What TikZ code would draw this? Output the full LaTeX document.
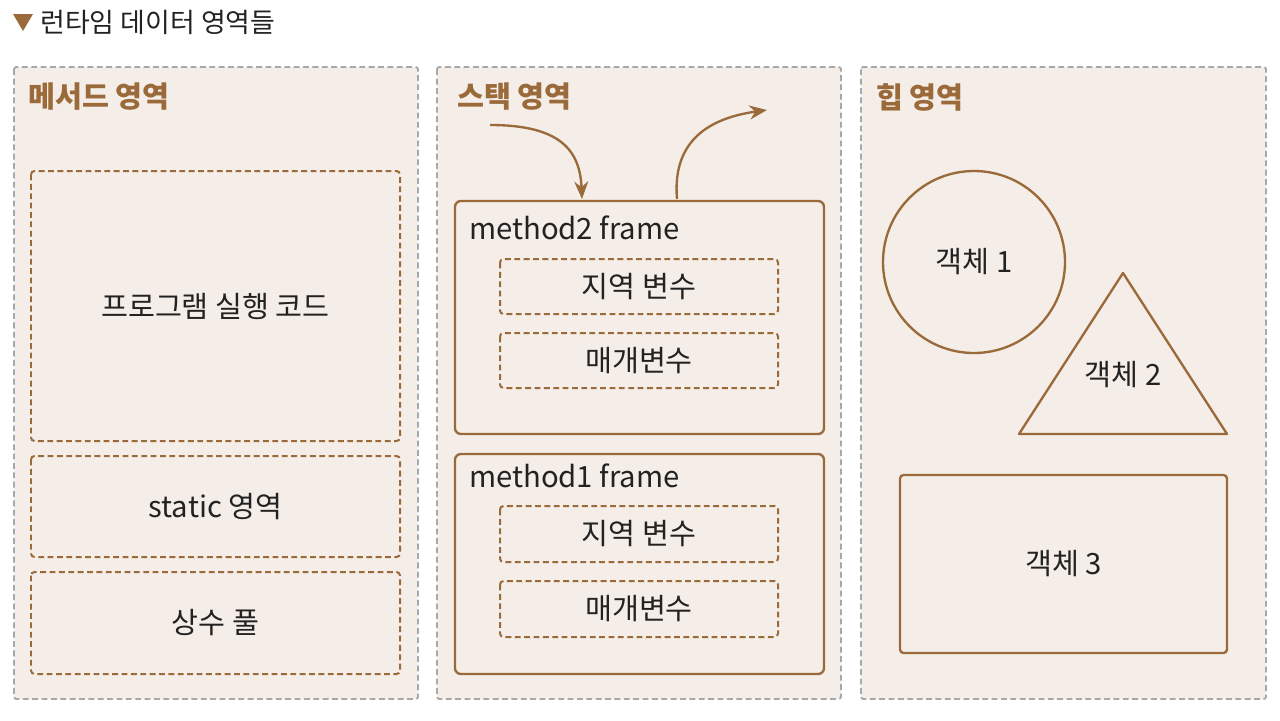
\documentclass[tikz,border=0pt]{standalone}
\usepackage{fontspec}
\setmainfont{Noto Sans CJK KR}
\usetikzlibrary{positioning,arrows.meta,shapes.geometric}
\definecolor{runbrown}{HTML}{9A6A3A}
\definecolor{runfill}{HTML}{F5EEE8}
\definecolor{rungray}{HTML}{A8A8A8}
\definecolor{runtext}{HTML}{222222}
\tikzset{
  area/.style={draw=rungray, fill=runfill, dash pattern=on 5pt off 3pt, line width=1.6pt, rounded corners=2pt},
  areatitle/.style={anchor=west, text=runbrown, font=\fontsize{25}{29}\selectfont\bfseries},
  dbox/.style={draw=runbrown, dash pattern=on 5pt off 3pt, line width=1.7pt, rounded corners=3pt},
  fbox/.style={draw=runbrown, line width=2pt, rounded corners=5pt},
  lbl/.style={text=runtext, font=\fontsize{25}{29}\selectfont},
  flow/.style={draw=runbrown, line width=2pt, -{Stealth[length=15pt,width=12pt]}}
}
\begin{document}
\begin{tikzpicture}[x=0.03cm,y=-0.03cm]
  \useasboundingbox (0,0) rectangle (1280,720);
  % title
  \node[anchor=west, inner sep=0pt, text=runtext, font=\fontsize{23}{27}\selectfont] (title) at (40,22) {런타임 데이터 영역들};
  \fill[runbrown] (13,14) -- (33,14) -- (23,31) -- cycle;

  % areas
  \draw[area] (14,67) rectangle (418,699);
  \draw[area] (437,67) rectangle (841,699);
  \draw[area] (861,67) rectangle (1266,699);
  \node[areatitle] (mtitle) at (24,97) {메서드 영역};
  \node[areatitle] (stitle) at (453,97) {스택 영역};
  \node[areatitle] (htitle) at (872,97) {힙 영역};

  % method area
  \draw[dbox] (31,171) rectangle (400,441) node[midway, lbl] (code) {프로그램 실행 코드};
  \draw[dbox] (31,456) rectangle (400,557) node[midway, lbl] (static) {static 영역};
  \draw[dbox] (31,572) rectangle (400,674) node[midway, lbl] (pool) {상수 풀};

  % stack area
  \draw[fbox] (455,201) rectangle (824,434);
  \node[lbl, anchor=west] (m2) at (465,228) {method2 frame};
  \draw[dbox] (500,259) rectangle (778,314) node[midway, lbl] (m2local) {지역 변수};
  \draw[dbox] (500,333) rectangle (778,388) node[midway, lbl] (m2param) {매개변수};
  \draw[fbox] (455,454) rectangle (824,674);
  \node[lbl, anchor=west] (m1) at (465,476) {method1 frame};
  \draw[dbox] (500,506) rectangle (778,562) node[midway, lbl] (m1local) {지역 변수};
  \draw[dbox] (500,581) rectangle (778,637) node[midway, lbl] (m1param) {매개변수};

  \coordinate (pushstart) at (490,125);
  \coordinate (pushend) at (582,199);
  \coordinate (popstart) at (677,199);
  \coordinate (popend) at (767,110);
  \draw[flow] (pushstart) .. controls (560,125) and (580,150) .. (pushend);
  \draw[flow] (popstart) .. controls (672,140) and (710,118) .. (popend);

  % heap area
  \draw[runbrown, line width=2pt] (974,262) circle[radius=91];
  \node[lbl] (obj1) at (974,262) {객체 1};
  \draw[runbrown, line width=2pt, line join=round] (1019,434) -- (1227,434) -- (1123,273) -- cycle;
  \node[lbl] (obj2) at (1123,375) {객체 2};
  \draw[fbox, rounded corners=3pt] (900,475) rectangle (1227,653) node[midway, lbl] (obj3) {객체 3};
\end{tikzpicture}
\end{document}
